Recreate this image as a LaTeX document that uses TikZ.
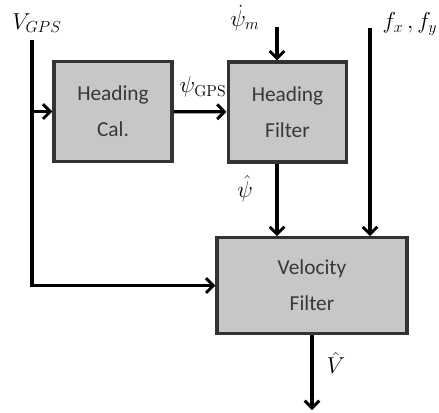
\documentclass[tikz,border=0pt]{standalone}
\usepackage{amsmath}
\usepackage{fontspec}
\setsansfont{Carlito}
\usetikzlibrary{positioning, arrows.meta}

\tikzset{
  blk/.style={draw=black!80, fill=black!22, line width=2.4pt, align=center,
    text=black!78, font=\sffamily\fontsize{16}{27}\selectfont},
  sig/.style={line width=2.4pt, black, -{Straight Barb[length=5.5pt, width=11pt, line width=2.2pt]}},
  lbl/.style={font=\fontsize{17}{20}\selectfont}
}

\begin{document}
\begin{tikzpicture}[x=0.75pt, y=-0.75pt]
      \useasboundingbox (0,0) rectangle (439,412);
      \node[blk, minimum width=88.5pt, minimum height=74.5pt] (cal) at (113,111.5) {Heading\\Cal.};
      \node[blk, minimum width=89pt, minimum height=75pt] (hfilt) at (287.5,112) {Heading\\Filter};
      \node[blk, minimum width=142.5pt, minimum height=71.5pt] (vfilt) at (312,285.5) {Velocity\\Filter};
      \coordinate (vin) at (32,40);
      \coordinate (psim) at (277,27);
      \coordinate (fin) at (370,28);
      \coordinate (vout) at (312,410);
      \node[lbl] (lvgps) at (37,23) {$V_{GPS}$};
      \node[lbl] (lpsim) at (245,18) {$\dot{\psi}_m$};
      \node[lbl] (lf) at (410,24) {$f_x\,,f_y$};
      \node[lbl] (lpsigps) at (203,87) {$\psi_{\mathrm{GPS}}$};
      \node[lbl] (lpsihat) at (245,189) {$\hat{\psi}$};
      \node[lbl] (lvhat) at (336,363) {$\hat{V}$};
      \draw[sig] (vin) |- (vfilt.west);
      \draw[sig] (vin |- cal.west) -- (cal.west);
      \draw[sig] (cal) -- (hfilt);
      \draw[sig] (psim) -- (psim |- hfilt.north);
      \draw[sig] (psim |- hfilt.south) -- (psim |- vfilt.north);
      \draw[sig] (fin) -- (fin |- vfilt.north);
      \draw[sig] (vfilt.south) -- (vout);
\end{tikzpicture}
\end{document}
